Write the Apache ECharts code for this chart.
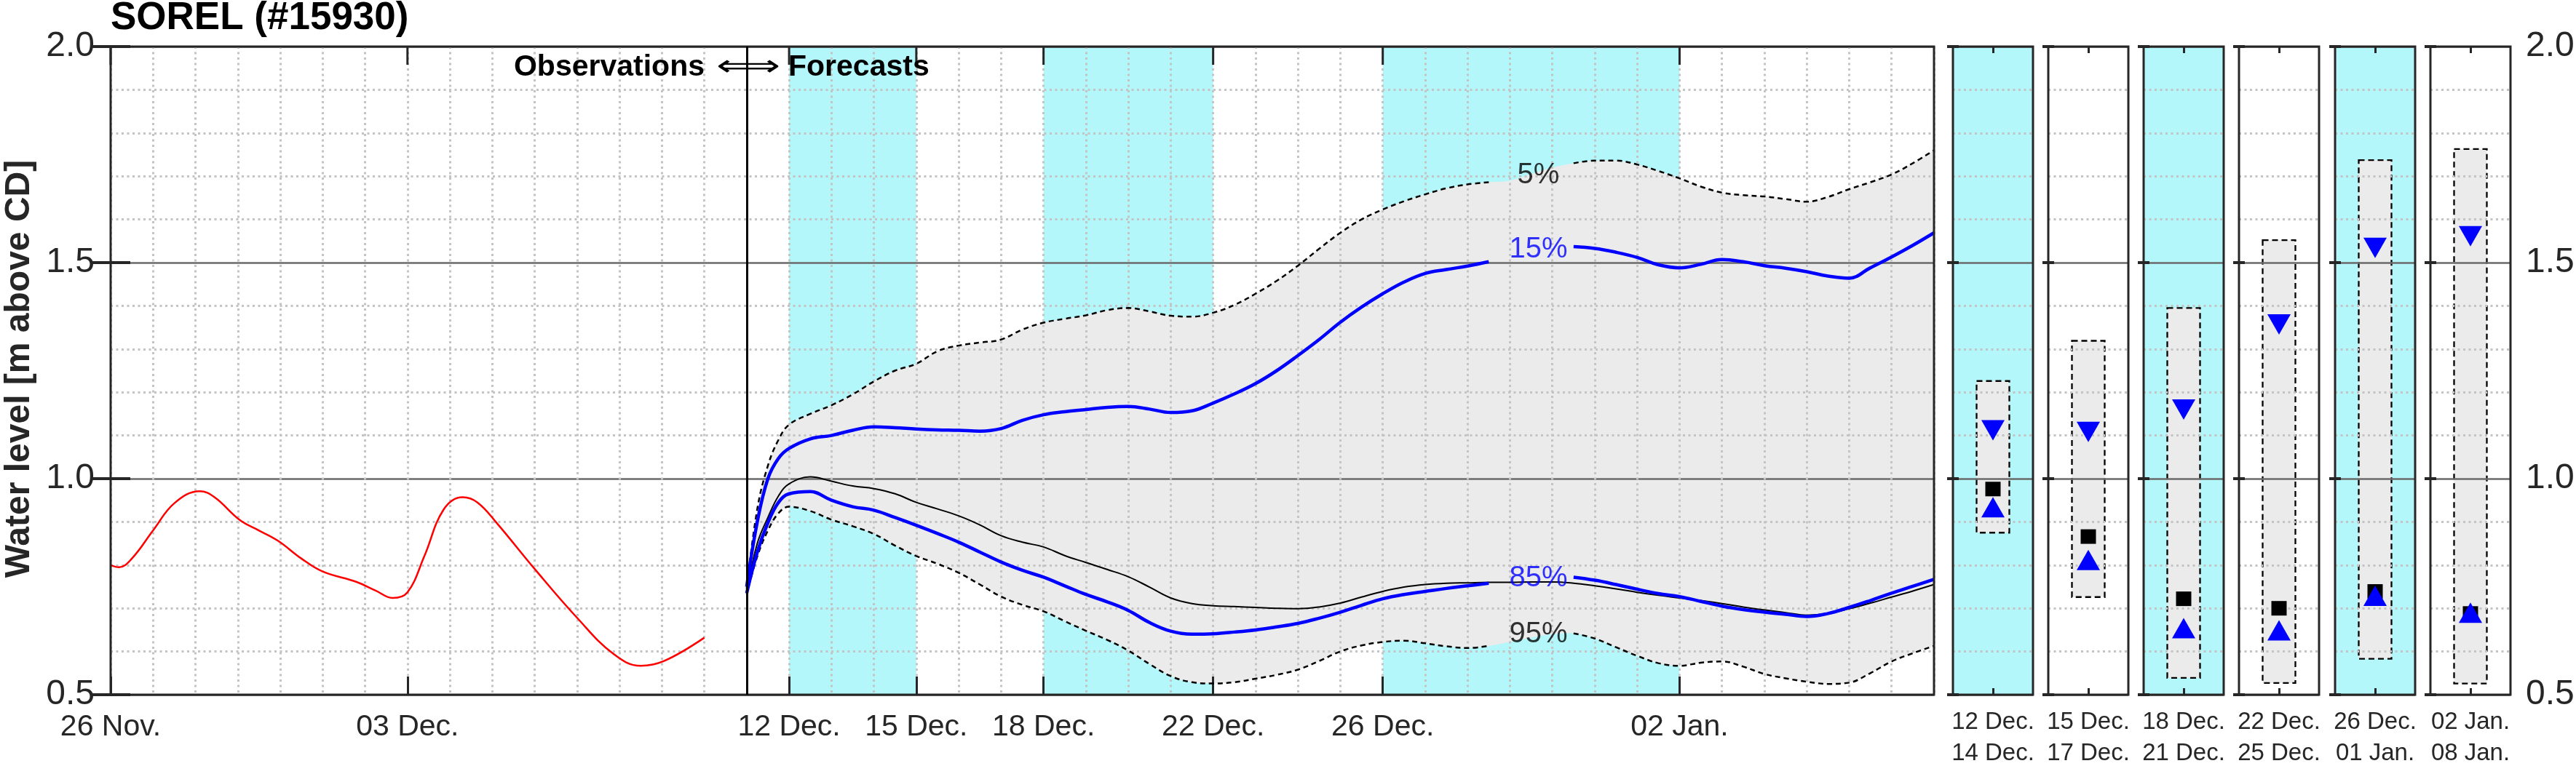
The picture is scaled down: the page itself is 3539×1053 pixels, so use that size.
<!DOCTYPE html>
<html><head><meta charset="utf-8">
<script src="https://cdn.jsdelivr.net/npm/echarts@6/dist/echarts.min.js"></script>
<style>html,body{margin:0;padding:0;background:#fff}#c{width:3539px;height:1053px}</style>
</head><body><div id="c"></div>
<script>
// ---------------- DATA ----------------
// x = days since 26 Nov.
const obsDays  = [0, 0.2, 0.5, 1.0, 1.5, 2.1, 2.45, 3.05, 3.5, 3.95, 4.5, 5.0, 5.8, 6.25, 6.65, 7.0, 7.4, 7.85, 8.3, 8.65, 9.1, 10.0, 11.0, 11.85, 12.5, 13.05, 14.0];
const obsLevel = [0.80, 0.795, 0.815, 0.88, 0.943, 0.971, 0.957, 0.904, 0.88, 0.856, 0.815, 0.785, 0.761, 0.741, 0.724, 0.737, 0.821, 0.928, 0.957, 0.945, 0.898, 0.791, 0.678, 0.595, 0.567, 0.578, 0.632];
const forecastStart = 15;

const fcDays = [15, 15.25, 15.5, 15.75, 16, 16.5, 17, 17.5, 18, 18.5, 19, 19.5, 20, 20.5, 21, 21.5, 22, 22.5, 23, 23.5, 24, 24.5, 25, 25.5, 26, 26.5, 27, 27.5, 28, 28.5, 29, 29.5, 30, 30.5, 31, 31.5, 32, 32.5, 33, 33.5, 34, 34.5, 35, 35.5, 36, 36.5, 37, 37.5, 38, 38.5, 39, 39.5, 40, 40.5, 41, 41.5, 42, 42.5, 43];
const p5  = [0.745, 0.93, 1.03, 1.09, 1.125, 1.15, 1.17, 1.195, 1.225, 1.25, 1.266, 1.295, 1.308, 1.315, 1.322, 1.345, 1.361, 1.37, 1.378, 1.39, 1.395, 1.387, 1.377, 1.375, 1.384, 1.402, 1.428, 1.458, 1.493, 1.532, 1.569, 1.60, 1.623, 1.642, 1.658, 1.672, 1.681, 1.686, 1.69, 1.705, 1.72, 1.73, 1.736, 1.736, 1.727, 1.712, 1.695, 1.676, 1.662, 1.656, 1.653, 1.647, 1.641, 1.652, 1.67, 1.686, 1.704, 1.73, 1.76];
const p15 = [0.75, 0.90, 1.0, 1.047, 1.07, 1.092, 1.10, 1.112, 1.12, 1.118, 1.115, 1.113, 1.112, 1.11, 1.116, 1.135, 1.148, 1.155, 1.16, 1.165, 1.167, 1.161, 1.153, 1.157, 1.175, 1.196, 1.22, 1.25, 1.285, 1.322, 1.362, 1.397, 1.428, 1.455, 1.475, 1.484, 1.492, 1.502, 1.51, 1.52, 1.53, 1.537, 1.533, 1.524, 1.512, 1.495, 1.488, 1.496, 1.507, 1.502, 1.493, 1.487, 1.479, 1.469, 1.464, 1.488, 1.513, 1.54, 1.569];
const p50 = [0.738, 0.85, 0.91, 0.96, 0.988, 1.004, 0.994, 0.983, 0.977, 0.965, 0.945, 0.93, 0.914, 0.893, 0.868, 0.853, 0.842, 0.822, 0.806, 0.79, 0.773, 0.749, 0.724, 0.711, 0.706, 0.704, 0.702, 0.7, 0.699, 0.703, 0.712, 0.726, 0.739, 0.749, 0.755, 0.758, 0.759, 0.76, 0.76, 0.761, 0.761, 0.758, 0.752, 0.745, 0.737, 0.73, 0.724, 0.718, 0.711, 0.703, 0.696, 0.69, 0.684, 0.688, 0.699, 0.712, 0.726, 0.74, 0.755];
const p85 = [0.735, 0.83, 0.898, 0.945, 0.965, 0.970, 0.95, 0.935, 0.927, 0.91, 0.892, 0.873, 0.853, 0.83, 0.807, 0.788, 0.772, 0.752, 0.732, 0.715, 0.695, 0.667, 0.647, 0.64, 0.641, 0.645, 0.65, 0.657, 0.665, 0.677, 0.691, 0.707, 0.722, 0.732, 0.739, 0.746, 0.752, 0.758, 0.762, 0.766, 0.77, 0.772, 0.765, 0.755, 0.744, 0.734, 0.727, 0.716, 0.705, 0.697, 0.691, 0.686, 0.681, 0.688, 0.702, 0.718, 0.735, 0.751, 0.767];
const p95 = [0.733, 0.82, 0.88, 0.92, 0.935, 0.925, 0.905, 0.89, 0.872, 0.845, 0.821, 0.803, 0.782, 0.755, 0.727, 0.708, 0.693, 0.67, 0.648, 0.627, 0.602, 0.571, 0.543, 0.529, 0.526, 0.529, 0.537, 0.546, 0.558, 0.578, 0.6, 0.614, 0.622, 0.625, 0.619, 0.612, 0.608, 0.613, 0.622, 0.632, 0.64, 0.642, 0.63, 0.61, 0.59, 0.573, 0.567, 0.574, 0.577, 0.565, 0.548, 0.538, 0.53, 0.525, 0.528, 0.55, 0.577, 0.596, 0.613];

const pctText  = ['5%', '15%', '85%', '95%'];
const pctDay   = [33.67, 33.67, 33.67, 33.67];
const pctLevel = [1.702, 1.531, 0.770, 0.640];

const tickDays   = [0, 7, 16, 19, 22, 26, 30, 37];
const tickLabels = ['26 Nov.', '03 Dec.', '12 Dec.', '15 Dec.', '18 Dec.', '22 Dec.', '26 Dec.', '02 Jan.'];
const cyanBands  = [[16, 19], [22, 26], [30, 37]];

const yTicks      = [0.5, 1.0, 1.5, 2.0];
const yTickLabels = ['0.5', '1.0', '1.5', '2.0'];

const panelStart = ['12 Dec.', '15 Dec.', '18 Dec.', '22 Dec.', '26 Dec.', '02 Jan.'];
const panelEnd   = ['14 Dec.', '17 Dec.', '21 Dec.', '25 Dec.', '01 Jan.', '08 Jan.'];
const panelCyan  = [true, false, true, false, true, false];
const panelP5    = [1.226, 1.319, 1.395, 1.552, 1.737, 1.763];
const panelP15   = [1.112, 1.108, 1.160, 1.357, 1.534, 1.561];
const panelMed   = [0.976, 0.866, 0.722, 0.700, 0.739, 0.688];
const panelP85   = [0.934, 0.812, 0.654, 0.649, 0.729, 0.690];
const panelP95   = [0.875, 0.726, 0.539, 0.527, 0.583, 0.526];

// ---------------- STYLE / LAYOUT ----------------
const FONT = "'Liberation Sans', Arial, Helvetica, sans-serif";
const INK = '#262626';
const CYAN = '#b4f7fa';
const GRAYFILL = '#ebebeb';
const BLUE = '#0000ff';
const PCT_COLORS = ['#000000', BLUE, BLUE, '#000000'];
const minorLine = { color: '#c4c4c4', width: 3, type: [3, 4.5] };
const majorLine = { color: '#6a6a6a', width: 2.5 };
const X_MIN = 0, X_MAX = 43, Y_MIN = 0.5, Y_MAX = 2.0;
const TOP = 64, H = 891;
const MAIN_LEFT = 152, MAIN_W = 2505;
const PANEL_LEFTS = [2683, 2814, 2945, 3076, 3208, 3339], PANEL_W = 110;
const BOX_W = 45;
const MAIN_TICK = 25;
const GAP = [32.6, 34.4];
const SM = 0.4;

const yLabelFmt = v => { const i = yTicks.findIndex(t => Math.abs(t - v) < 1e-6); return i >= 0 ? yTickLabels[i] : ''; };

const grids = [], xAxes = [], yAxes = [], series = [];
function addGrid(left, width) {
  grids.push({ left, top: TOP, width, height: H, show: true, borderColor: INK, borderWidth: 3,
    backgroundColor: 'transparent', z: 4, containLabel: false, outerBoundsMode: 'none' });
  return grids.length - 1;
}

// main grid
addGrid(MAIN_LEFT, MAIN_W);
xAxes.push({ gridIndex: 0, type: 'value', min: X_MIN, max: X_MAX, interval: 1, position: 'bottom', z: 2,
  axisLine: { show: false },
  axisTick: { show: true, inside: true, length: MAIN_TICK, customValues: tickDays, lineStyle: { color: INK, width: 3 } },
  axisLabel: { show: true, customValues: tickDays, formatter: v => tickLabels[tickDays.indexOf(v)],
    fontSize: 41, lineHeight: 41, color: INK, fontFamily: FONT, margin: 24 },
  splitLine: { show: false } });
// top axis only carries the daily dotted grid lines
xAxes.push({ gridIndex: 0, type: 'value', min: X_MIN, max: X_MAX, interval: 1, position: 'top', z: 2,
  axisLine: { show: false }, axisTick: { show: false }, axisLabel: { show: false },
  splitLine: { show: true, lineStyle: minorLine } });
yAxes.push({ gridIndex: 0, type: 'value', min: Y_MIN, max: Y_MAX, interval: 0.5, position: 'left', z: 2,
  axisLine: { show: false },
  axisTick: { show: true, inside: true, length: 27, lineStyle: { color: INK, width: 4 } },
  axisLabel: { show: true, formatter: yLabelFmt, fontSize: 48, color: INK, fontFamily: FONT, margin: 22 },
  splitLine: { show: true, lineStyle: majorLine },
  minorTick: { show: false, splitNumber: 5 },
  minorSplitLine: { show: true, lineStyle: minorLine } });
yAxes.push({ gridIndex: 0, type: 'value', min: Y_MIN, max: Y_MAX, interval: 0.5, position: 'right', z: 2,
  axisLine: { show: false },
  axisTick: { show: true, inside: true, length: 25, lineStyle: { color: INK, width: 4 } },
  axisLabel: { show: false }, splitLine: { show: false } });

// panels
PANEL_LEFTS.forEach((left, i) => {
  const g = addGrid(left, PANEL_W);
  xAxes.push({ gridIndex: g, type: 'value', min: 0, max: 1, interval: 0.5, position: 'bottom', z: 2,
    axisLine: { show: false },
    axisTick: { show: true, inside: true, length: 9, customValues: [0.5], lineStyle: { color: INK, width: 3 } },
    axisLabel: { show: true, customValues: [0.5], formatter: () => panelStart[i] + '\n' + panelEnd[i],
      fontSize: 33, lineHeight: 43, color: INK, fontFamily: FONT, margin: 16 },
    splitLine: { show: false } });
  xAxes.push({ gridIndex: g, type: 'value', min: 0, max: 1, interval: 0.5, position: 'top', z: 2,
    axisLine: { show: false },
    axisTick: { show: true, inside: true, length: 9, customValues: [0.5], lineStyle: { color: INK, width: 3 } },
    axisLabel: { show: false }, splitLine: { show: false } });
  yAxes.push({ gridIndex: g, type: 'value', min: Y_MIN, max: Y_MAX, interval: 0.5, position: 'left', z: 2,
    axisLine: { show: false },
    axisTick: { show: true, inside: true, length: 8, lineStyle: { color: INK, width: 4 } },
    axisLabel: { show: false },
    splitLine: { show: true, lineStyle: majorLine },
    minorTick: { show: false, splitNumber: 5 },
    minorSplitLine: { show: true, lineStyle: minorLine } });
  yAxes.push({ gridIndex: g, type: 'value', min: Y_MIN, max: Y_MAX, interval: 0.5, position: 'right', z: 2,
    axisLine: { show: false },
    axisTick: { show: true, inside: true, length: 8, lineStyle: { color: INK, width: 4 } },
    axisLabel: { show: i === PANEL_LEFTS.length - 1, formatter: yLabelFmt, fontSize: 48, color: INK, fontFamily: FONT, margin: 21 },
    splitLine: { show: false } });
});

// ---- main series ----
series.push({ type: 'custom', xAxisIndex: 0, yAxisIndex: 0, z: 0, silent: true, data: cyanBands,
  renderItem: (p, api) => {
    const a = api.coord([api.value(0), Y_MAX]), b = api.coord([api.value(1), Y_MIN]);
    return { type: 'rect', shape: { x: a[0], y: a[1], width: b[0] - a[0], height: b[1] - a[1] }, style: { fill: CYAN } };
  } });

// 5%-95% envelope as one polygon (upper edge forward, lower edge back)
series.push({ type: 'custom', xAxisIndex: 0, yAxisIndex: 0, z: 1, silent: true, clip: true, data: [[fcDays[0], p5[0]]],
  renderItem: (p, api) => {
    const up = fcDays.map((d, i) => api.coord([d, p5[i]]));
    const lo = fcDays.map((d, i) => api.coord([d, p95[i]])).reverse();
    const pts = [up[0]].concat(up, [up[up.length - 1]], [lo[0]], lo, [lo[lo.length - 1]]);
    return { type: 'polygon', shape: { points: pts, smooth: SM }, style: { fill: GRAYFILL } };
  } });

// top-edge ticks of the main plot
series.push({ type: 'custom', xAxisIndex: 0, yAxisIndex: 0, z: 4, silent: true, data: tickDays.map(d => [d, Y_MAX]),
  renderItem: (p, api) => {
    const a = api.coord([api.value(0), api.value(1)]);
    return { type: 'line', shape: { x1: a[0], y1: a[1], x2: a[0], y2: a[1] + MAIN_TICK }, style: { stroke: INK, lineWidth: 3 } };
  } });

const withGap = arr => fcDays.map((d, i) => [d, (d > GAP[0] && d < GAP[1]) ? '-' : arr[i]]);
function fcLine(data, color, width, type) {
  return { type: 'line', xAxisIndex: 0, yAxisIndex: 0, z: 3, silent: true, symbol: 'none', smooth: SM, connectNulls: false,
    data, lineStyle: { color, width, type } };
}
series.push(fcLine(withGap(p5), '#000', 2.5, [7, 5]));
series.push(fcLine(withGap(p95), '#000', 2.5, [7, 5]));
series.push(fcLine(fcDays.map((d, i) => [d, p50[i]]), '#000', 2, 'solid'));
series.push(fcLine(withGap(p15), BLUE, 4.5, 'solid'));
series.push(fcLine(withGap(p85), BLUE, 4.5, 'solid'));

series.push({ type: 'line', xAxisIndex: 0, yAxisIndex: 0, z: 3, silent: true, symbol: 'none', smooth: SM,
  data: obsDays.map((d, i) => [d, obsLevel[i]]), lineStyle: { color: '#ff0000', width: 2.5 },
  markLine: { silent: true, symbol: 'none', label: { show: false }, lineStyle: { color: '#000', width: 3, type: 'solid' },
    data: [{ xAxis: forecastStart }] } });

series.push({ type: 'scatter', xAxisIndex: 0, yAxisIndex: 0, z: 5, silent: true, symbolSize: 0,
  data: pctText.map((t, i) => ({ value: [pctDay[i], pctLevel[i]], label: { color: PCT_COLORS[i] } })),
  label: { show: true, position: 'inside', formatter: p => pctText[p.dataIndex], fontSize: 40, fontFamily: FONT } });

// ---- panel series ----
PANEL_LEFTS.forEach((_, i) => {
  const xi = 2 + 2 * i, yi = 2 + 2 * i;
  if (panelCyan[i]) {
    series.push({ type: 'custom', xAxisIndex: xi, yAxisIndex: yi, z: 0, silent: true, data: [[0, 1]],
      renderItem: (p, api) => {
        const a = api.coord([api.value(0), Y_MAX]), b = api.coord([api.value(1), Y_MIN]);
        return { type: 'rect', shape: { x: a[0], y: a[1], width: b[0] - a[0], height: b[1] - a[1] }, style: { fill: CYAN } };
      } });
  }
  series.push({ type: 'custom', xAxisIndex: xi, yAxisIndex: yi, z: 1, silent: true,
    data: [[0.5, panelP95[i], panelP5[i]]],
    renderItem: (p, api) => {
      const t = api.coord([api.value(0), api.value(2)]), b = api.coord([api.value(0), api.value(1)]);
      return { type: 'rect', shape: { x: t[0] - BOX_W / 2, y: t[1], width: BOX_W, height: b[1] - t[1] },
        style: { fill: GRAYFILL, stroke: '#000', lineWidth: 2.3, lineDash: [8, 5] } };
    } });
  series.push({ type: 'scatter', xAxisIndex: xi, yAxisIndex: yi, z: 3, silent: true, symbol: 'rect', symbolSize: [21, 20],
    itemStyle: { color: '#000', opacity: 1 }, data: [[0.5, panelMed[i]]] });
  series.push({ type: 'scatter', xAxisIndex: xi, yAxisIndex: yi, z: 3, silent: true, symbol: 'triangle', symbolSize: [32, 28],
    itemStyle: { color: BLUE, opacity: 1 }, data: [[0.5, panelP85[i]]] });
  series.push({ type: 'scatter', xAxisIndex: xi, yAxisIndex: yi, z: 3, silent: true, symbol: 'triangle', symbolRotate: 180, symbolSize: [32, 28],
    itemStyle: { color: BLUE, opacity: 1 }, data: [[0.5, panelP15[i]]] });
});

const chart = echarts.init(document.getElementById('c'), null, { renderer: 'canvas', width: 3539, height: 1053 });
chart.setOption({
  animation: false,
  backgroundColor: '#ffffff',
  textStyle: { fontFamily: FONT },
  grid: grids, xAxis: xAxes, yAxis: yAxes, series,
  graphic: [
    { type: 'text', x: 152, y: 25, z: 10, style: { text: 'SOREL (#15930)', font: "bold 53px 'Liberation Sans', Arial, sans-serif", fill: '#000', align: 'left', verticalAlign: 'middle' } },
    { type: 'text', x: 27, y: 507, rotation: Math.PI / 2, z: 10, style: { text: 'Water level [m above CD]', font: "bold 48px 'Liberation Sans', Arial, sans-serif", fill: INK, align: 'center', verticalAlign: 'middle' } },
    { type: 'text', x: 968, y: 93, z: 10, style: { text: 'Observations', font: "bold 41px 'Liberation Sans', Arial, sans-serif", fill: '#000', align: 'right', verticalAlign: 'middle' } },
    { type: 'text', x: 1028, y: 93, z: 10, scaleX: 1.5, style: { text: '\u27FA', font: "41px 'DejaVu Sans', sans-serif", fill: '#000', align: 'center', verticalAlign: 'middle' } },
    { type: 'text', x: 1083, y: 93, z: 10, style: { text: 'Forecasts', font: "bold 41px 'Liberation Sans', Arial, sans-serif", fill: '#000', align: 'left', verticalAlign: 'middle' } }
  ]
});
</script>
</body></html>
